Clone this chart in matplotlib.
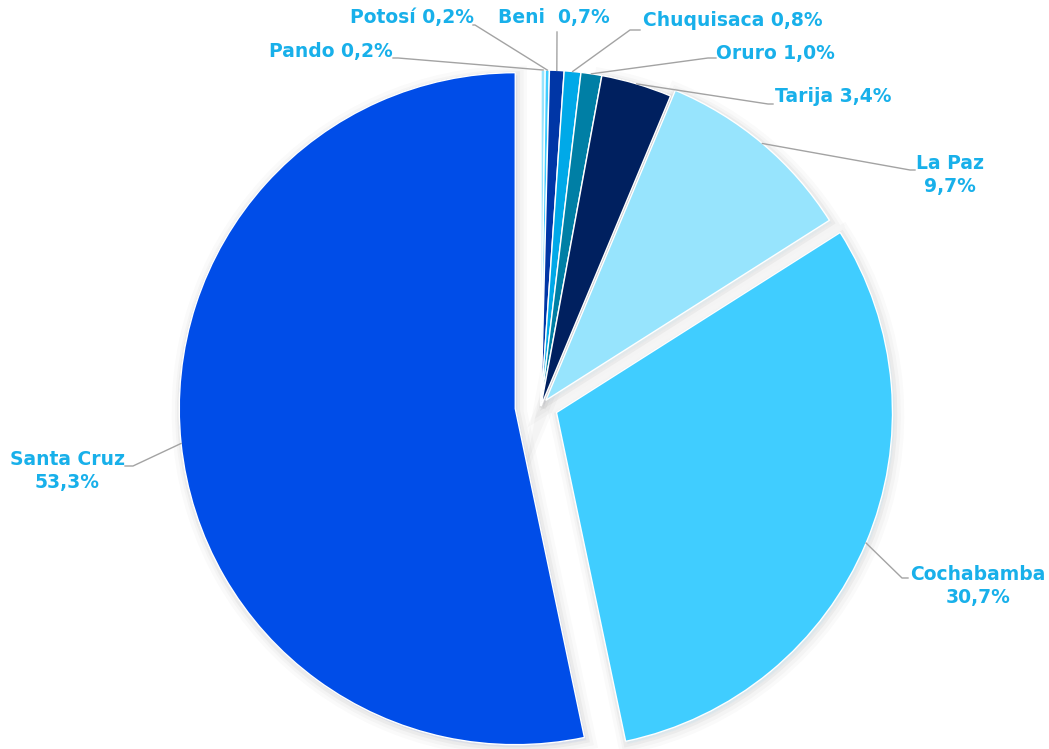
import numpy as np
import matplotlib.pyplot as plt
import matplotlib.patheffects as pe

# Department shares, clockwise from 12 o'clock
departments = ["Pando", "Potosí", "Beni ", "Chuquisaca", "Oruro",
               "Tarija", "La Paz", "Cochabamba", "Santa Cruz"]
shares = [0.2, 0.2, 0.7, 0.8, 1.0, 3.4, 9.7, 30.7, 53.3]
separators = [" ", " ", " ", " ", " ", " ", "\n", "\n", "\n"]
colors = ["#97e4fd", "#40cdff", "#0036a6", "#00a9e8", "#007fa5",
          "#00205f", "#97e4fd", "#40cdff", "#004de8"]
explode = [0, 0, 0, 0, 0, 0, 0.022, 0.05, 0.077]

# label layout in pixels: text centre, elbow start, elbow end
text_xy = [(331, 51), (412, 18), (554, 18), (733, 20), (775, 53),
           (833, 97), (950, 175), (978, 586), (67, 471)]
elbow_a = [(393, 58), (473, 25), (557, 32), (640, 30), (716, 58),
           (773, 104), (915, 170), (908, 578), (125, 466)]
elbow_b = [(398, 58), (475, 25), (557, 34), (630, 30), (708, 58),
           (768, 104), (910, 170), (902, 578), (133, 466)]

W, H = 1049, 749
CX, CY, R = 541, 406, 336


def px(p):
    return ((p[0] - CX) / R, (CY - p[1]) / R)


fig = plt.figure(figsize=(W / 100, H / 100), dpi=100)
ax = fig.add_axes([0, 0, 1, 1])

# soft shadow layer underneath the larger wedges
shadow = [
    pe.Stroke(linewidth=14, foreground="black", alpha=0.018, offset=(1.5, -2)),
    pe.Stroke(linewidth=9, foreground="black", alpha=0.025, offset=(1.5, -2)),
    pe.Stroke(linewidth=5, foreground="black", alpha=0.035, offset=(1, -1.5)),
    pe.Normal(),
]
shadow_wedges, _ = ax.pie(shares, colors=colors, explode=explode, startangle=90,
                          counterclock=False, radius=1,
                          wedgeprops=dict(linewidth=0))
for s, w in zip(shares, shadow_wedges):
    if s >= 3:
        w.set_path_effects(shadow)
    else:
        w.set_visible(False)

wedges, _ = ax.pie(shares, colors=colors, explode=explode, startangle=90,
                   counterclock=False, radius=1,
                   wedgeprops=dict(edgecolor="white", linewidth=1.0))

ax.set_xlim(-CX / R, (W - CX) / R)
ax.set_ylim(-(H - CY) / R, CY / R)
ax.set_aspect("equal")
ax.axis("off")

for i, w in enumerate(wedges):
    mid = np.deg2rad((w.theta1 + w.theta2) / 2)
    anchor = (w.center[0] + w.r * np.cos(mid), w.center[1] + w.r * np.sin(mid))
    pa, pb = px(elbow_a[i]), px(elbow_b[i])
    ax.plot([pa[0], pb[0], anchor[0]], [pa[1], pb[1], anchor[1]],
            color="#a3a3a3", linewidth=1, zorder=5)
    label = departments[i] + separators[i] + f"{shares[i]:.1f}".replace(".", ",") + "%"
    tx, ty = px(text_xy[i])
    ax.text(tx, ty, label, ha="center", va="center", fontsize=13.5,
            fontweight="bold", color="#18b0ea", linespacing=1.25,
            family="DejaVu Sans")

fig.savefig("out.png", dpi=100, facecolor="white")
